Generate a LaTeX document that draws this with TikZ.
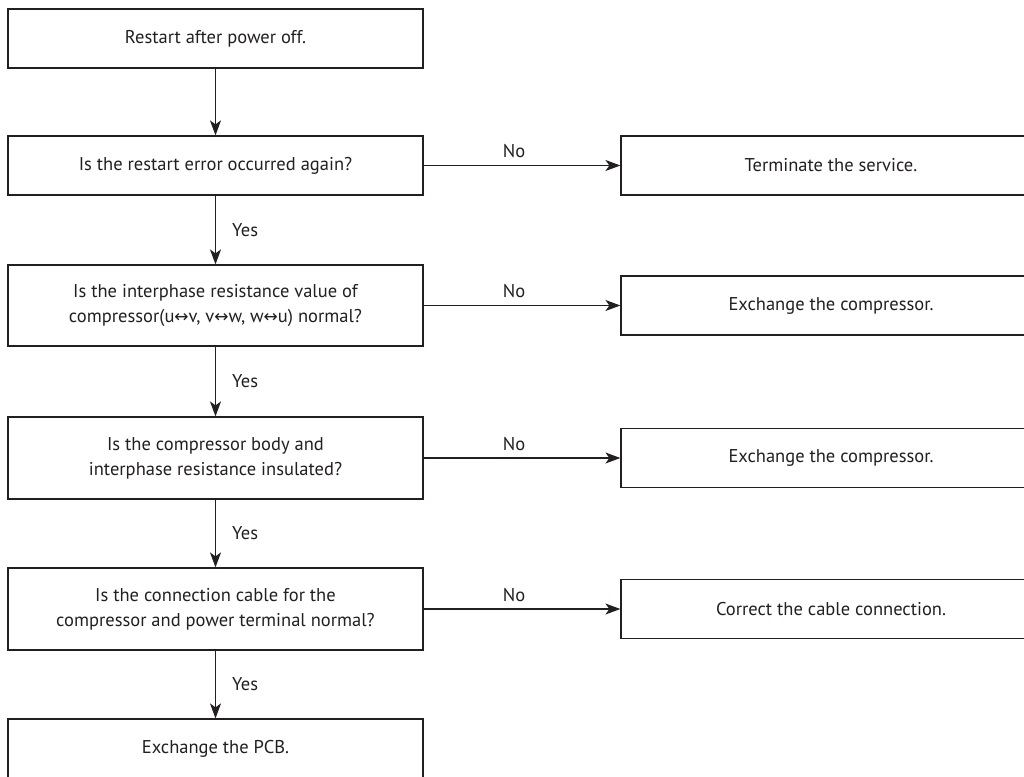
\documentclass[tikz,border=0pt]{standalone}
\usepackage{fontspec}
\setmainfont{PT Sans}
\newfontfamily\symfont{DejaVu Sans}
\usetikzlibrary{arrows.meta}
\definecolor{ink}{HTML}{231F20}
\newcommand{\lrarr}{{\symfont\fontsize{17}{17}\selectfont\char"2194}}
\tikzset{
  x=1pt, y=-1pt,
  lbox/.style={draw=ink, line width=1.2pt, rectangle, minimum width=415pt, inner sep=0pt, align=center, text=ink, font=\fontsize{18.5}{25}\selectfont},
  rbox/.style={lbox, minimum width=420pt, minimum height=59pt},
  onebox/.style={lbox, minimum height=59pt},
  twobox/.style={lbox, minimum height=82pt},
  conn/.style={draw=ink, line width=1.2pt, -{Stealth[length=15pt,width=11pt,inset=4pt]}},
  lab/.style={text=ink, font=\fontsize{18.5}{22.5}\selectfont, inner sep=0pt}
}
\begin{document}
\begin{tikzpicture}
\useasboundingbox (0,0) rectangle (1024,776);
\clip (0,0) rectangle (1024,776);
\node[onebox] (b1) at (215.5,38.5) {Restart after power off.};
\node[onebox] (b2) at (215.5,165.5) {Is the restart error occurred again?};
\node[twobox, minimum height=81pt] (b3) at (215.5,305.5) {Is the interphase resistance value of\\compressor(u\lrarr v, v\lrarr w, w\lrarr u) normal?};
\node[twobox] (b4) at (215.5,458) {Is the compressor body and\\interphase resistance insulated?};
\node[twobox] (b5) at (215.5,609) {Is the connection cable for the\\compressor and power terminal normal?};
\node[onebox] (b6) at (215.5,748.5) {Exchange the PCB.};
\node[rbox] (r2) at (831,165.5) {Terminate the service.};
\node[rbox] (r3) at (831,305.5) {Exchange the compressor.};
\node[rbox] (r4) at (831,458) {Exchange the compressor.};
\node[rbox] (r5) at (831,609) {Correct the cable connection.};
\draw[conn] (b1) -- (b2);
\draw[conn] (b2) -- node[lab, right=16pt] (y2) {Yes} (b3);
\draw[conn] (b3) -- node[lab, right=16pt] (y3) {Yes} (b4);
\draw[conn] (b4) -- node[lab, right=16pt] (y4) {Yes} (b5);
\draw[conn] (b5) -- node[lab, right=16pt] (y5) {Yes} (b6);
\draw[conn] (b2) -- node[lab, pos=0.46, above=7pt] (n2) {No} (r2);
\draw[conn] (b3) -- node[lab, pos=0.46, above=7pt] (n3) {No} (r3);
\draw[conn] (b4) -- node[lab, pos=0.46, above=7pt] (n4) {No} (r4);
\draw[conn] (b5) -- node[lab, pos=0.46, above=7pt] (n5) {No} (r5);
\end{tikzpicture}
\end{document}
